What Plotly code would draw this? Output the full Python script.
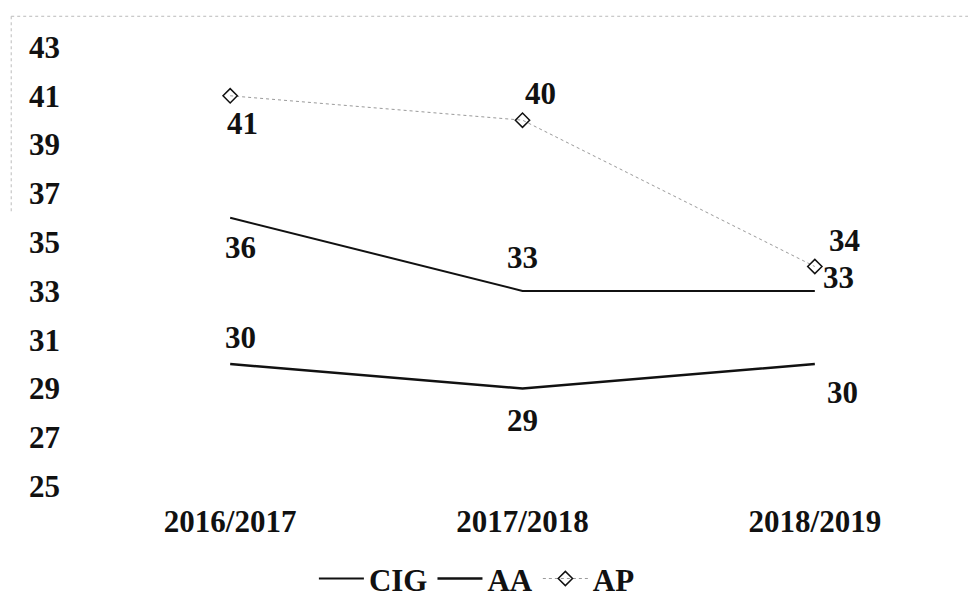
import plotly.graph_objects as go

categories = ["2016/2017", "2017/2018", "2018/2019"]
cig = [36, 33, 33]
aa = [30, 29, 30]
ap = [41, 40, 34]
y_ticks = [25, 27, 29, 31, 33, 35, 37, 39, 41, 43]

FONT = "Liberation Serif, Times New Roman, serif"
FS = 31

fig = go.Figure()
fig.add_trace(go.Scatter(x=categories, y=cig, name="<b>CIG</b>", mode="lines",
                         line=dict(color="#111111", width=2)))
fig.add_trace(go.Scatter(x=categories, y=aa, name="<b>AA</b>", mode="lines",
                         line=dict(color="#111111", width=2.5)))
fig.add_trace(go.Scatter(x=categories, y=ap, name="<b>AP</b>", mode="lines+markers",
                         line=dict(color="#9a9a9a", width=1, dash="dot"),
                         marker=dict(symbol="diamond-open", size=11,
                                     color="#111111", line=dict(width=1.5))))

# data label offsets (pixels) per point
label_specs = [
    (cig, [(10, -30), (0, 33), (24, 13)]),
    (aa, [(10, 27), (0, -32), (28, -28)]),
    (ap, [(12, -28), (18, 27), (30, 26)]),
]
for vals, offs in label_specs:
    for c, v, (dx, dy) in zip(categories, vals, offs):
        fig.add_annotation(x=c, y=v, text=f"<b>{v}</b>", showarrow=False,
                           xshift=dx, yshift=dy,
                           font=dict(family=FONT, size=FS, color="#111111"))

fig.update_layout(
    width=976, height=596,
    margin=dict(l=76, r=23, t=39, b=118, autoexpand=False),
    paper_bgcolor="white", plot_bgcolor="white",
    font=dict(family=FONT, size=FS, color="#111111"),
    showlegend=True,
    legend=dict(orientation="h", x=0.448, xanchor="center", y=-0.15,
                yanchor="top", font=dict(family=FONT, size=FS),
                itemwidth=45, tracegroupgap=0),
    xaxis=dict(type="category", range=[-0.5, 2.5], showgrid=False,
               showline=False, zeroline=False, ticks="", automargin=False,
               ticklabelstandoff=14,
               tickvals=categories, ticktext=[f"<b>{c}</b>" for c in categories],
               tickfont=dict(family=FONT, size=FS)),
    yaxis=dict(range=[25, 43], tickvals=y_ticks,
               ticktext=[f"<b>{t}</b>" for t in y_ticks], showgrid=False,
               showline=False, zeroline=False, ticks="", automargin=False,
               ticklabelstandoff=23,
               tickfont=dict(family=FONT, size=FS)),
    shapes=[
        dict(type="line", xref="paper", yref="paper", x0=-0.083, x1=1.02,
             y0=1.07, y1=1.07, line=dict(color="#bbbbbb", width=1, dash="dot")),
        dict(type="line", xref="paper", yref="paper", x0=-0.083, x1=-0.083,
             y0=1.07, y1=0.62, line=dict(color="#bbbbbb", width=1, dash="dot")),
    ],
)

fig.write_html("out.html")
